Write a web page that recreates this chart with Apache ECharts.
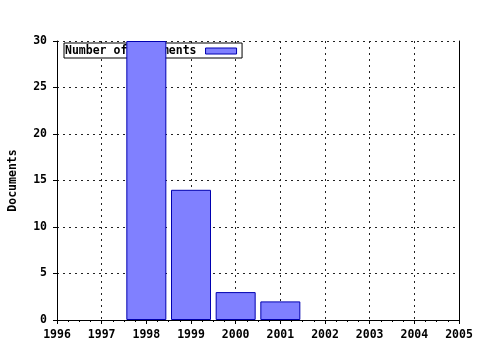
<!DOCTYPE html>
<html><head><meta charset="utf-8">
<script src="https://cdn.jsdelivr.net/npm/echarts@6/dist/echarts.min.js"></script>
<style>html,body{margin:0;padding:0;background:#fff}#c{width:480px;height:350px}</style>
</head><body><div id="c"></div>
<script>
const years = [1998, 1999, 2000, 2001];
const docs = [30, 14, 3, 2];
const xTicks = [1996, 1997, 1998, 1999, 2000, 2001, 2002, 2003, 2004, 2005];
const yTicks = [0, 5, 10, 15, 20, 25, 30];
const font = {fontFamily: 'DejaVu Sans Mono', fontWeight: 'bold', fontSize: 11.5, color: '#000'};
const chart = echarts.init(document.getElementById('c'));
chart.setOption({
  animation: false,
  grid: {left: 57, right: 21, top: 41, bottom: 30, containLabel: false, outerBoundsMode: 'none'},
  legend: {
    show: true, left: 64, top: 43, z: 1,
    orient: 'horizontal', align: 'right', icon: 'rect',
    backgroundColor: '#fff', borderColor: '#000', borderWidth: 1,
    padding: [2, 5, 1, 1], itemWidth: 31, itemHeight: 6, itemGap: 0,
    itemStyle: {borderWidth: 1, borderColor: '#0000b0'},
    textStyle: Object.assign({}, font, {padding: [0, 4, 0, 0]}),
    data: ['Number of Documents']
  },
  xAxis: [{
    type: 'value', min: xTicks[0], max: xTicks[xTicks.length - 1], interval: 1,
    axisLine: {show: true, lineStyle: {color: '#000', width: 1}},
    axisTick: {show: true, inside: false, length: 4, lineStyle: {color: '#000'}},
    minorTick: {show: true, splitNumber: 4, length: 2, lineStyle: {color: '#000'}},
    axisLabel: Object.assign({}, font, {margin: 9, formatter: v => String(v)}),
    splitLine: {show: true, lineStyle: {color: '#222', type: [2, 4], width: 1}},
    z: 0
  }, {
    type: 'value', position: 'top', min: xTicks[0], max: xTicks[xTicks.length - 1], interval: 1,
    axisLine: {show: true, lineStyle: {color: '#000', width: 1}},
    axisTick: {show: true, inside: true, length: 3, lineStyle: {color: '#000'}},
    minorTick: {show: true, splitNumber: 4, length: 2, lineStyle: {color: '#000'}},
    axisLabel: {show: false}, splitLine: {show: false}
  }],
  yAxis: [{
    type: 'value', min: yTicks[0], max: yTicks[yTicks.length - 1], interval: 5,
    name: 'Documents', nameLocation: 'middle', nameGap: 38, nameRotate: 90,
    nameTextStyle: font,
    axisLine: {show: true, lineStyle: {color: '#000', width: 1}},
    axisTick: {show: true, inside: false, length: 4, lineStyle: {color: '#000'}},
    axisLabel: Object.assign({}, font, {margin: 10}),
    splitLine: {show: true, lineStyle: {color: '#222', type: [2, 4], width: 1}},
    z: 0
  }, {
    type: 'value', position: 'right', min: yTicks[0], max: yTicks[yTicks.length - 1], interval: 5,
    axisLine: {show: true, lineStyle: {color: '#000', width: 1}},
    axisTick: {show: false}, axisLabel: {show: false}, splitLine: {show: false}
  }],
  series: [{
    name: 'Number of Documents', type: 'bar', z: 2,
    barWidth: 40,
    data: years.map((y, i) => [y, docs[i]]),
    itemStyle: {color: '#8080ff', borderColor: '#0000b0', borderWidth: 1}
  }]
});
</script></body></html>
